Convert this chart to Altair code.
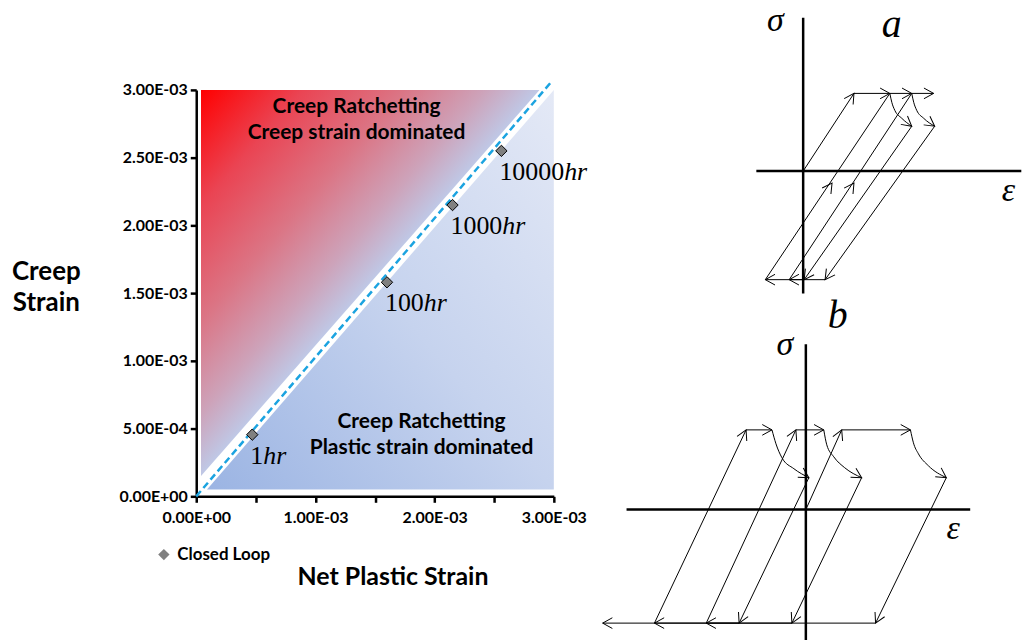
import math
import altair as alt
import pandas as pd

# ---------------- main chart data ----------------
net_plastic = [0.00047, 0.00160, 0.00215, 0.00256]
creep_strain = [0.000455, 0.00158, 0.00215, 0.00255]
hours = ["1", "100", "1000", "10000"]
series_name = "Closed Loop"

tick_values = [0.0, 0.0005, 0.001, 0.0015, 0.002, 0.0025, 0.003]
x_tick_labels = ["0.00E+00", "", "1.00E-03", "", "2.00E-03", "", "3.00E-03"]
y_tick_labels = ["0.00E+00", "5.00E-04", "1.00E-03", "1.50E-03", "2.00E-03", "2.50E-03", "3.00E-03"]

# dashed boundary line (net plastic strain = creep strain)
boundary_x = [0.0, 0.00297]
boundary_y = [0.0, 0.00305]

# shaded regions: x, lower edge, upper edge
creep_region_x = [0.00004, 0.00288]
creep_region_lo = [0.00015, 0.00300]
creep_region_hi = [0.00300, 0.00300]
plastic_region_x = [0.00009, 0.00300]
plastic_region_lo = [0.00005, 0.00005]
plastic_region_hi = [0.00005, 0.00300]

region_text = ["Creep Ratchetting", "Creep strain dominated",
               "Creep Ratchetting", "Plastic strain dominated"]
region_text_x = [0.001345, 0.001345, 0.00189, 0.00189]
region_text_y = [0.00287, 0.00268, 0.000545, 0.000353]

# ---------------- sketch data (schematic stress-strain, arbitrary units) ----------------
# sketch a
a_lines = [
    [(0.0, 0.0), (5.1, 7.8), (8.7, 7.8)],
    [(10.9, 4.5), (0.1, -10.9), (-3.8, -10.9), (8.7, 7.8), (10.9, 7.8)],
    [(13.2, 4.5), (2.2, -10.9), (-1.4, -10.9), (10.9, 7.8), (13.1, 7.8)],
]
a_curves = [
    [(8.7, 7.8), (8.9, 6.9), (9.2, 6.1), (9.9, 5.3), (10.9, 4.5)],
    [(10.9, 7.8), (11.1, 6.9), (11.4, 6.1), (12.1, 5.3), (13.2, 4.5)],
]
# arrow tip and the point it comes from
a_arrows = [
    ((5.1, 7.8), (0.0, 0.0)), ((8.7, 7.8), (5.1, 7.8)), ((10.9, 4.5), (9.9, 5.3)),
    ((0.1, -10.9), (10.9, 4.5)), ((-3.8, -10.9), (0.1, -10.9)), ((2.9, -1.2), (-3.8, -10.9)),
    ((10.9, 7.8), (8.7, 7.8)), ((13.2, 4.5), (12.1, 5.3)), ((2.2, -10.9), (13.2, 4.5)),
    ((-1.4, -10.9), (2.2, -10.9)), ((5.1, -1.2), (-1.4, -10.9)), ((13.1, 7.8), (10.9, 7.8)),
]
a_axes = [(-4.7, 21.9, 0.0, 0.0), (0.0, 0.0, -12.3, 15.4)]
a_labels = ["σ", "a", "ε"]
a_label_eps = [-2.8, 8.9, 20.6]
a_label_sig = [15.1, 14.7, -2.0]

# sketch b
b_lines = [
    [(0.0, 0.0), (3.6, 8.0), (10.5, 8.0)],
    [(14.1, 3.2), (7.0, -11.4), (-10.0, -11.4), (-1.0, 8.0), (1.8, 8.0)],
    [(5.6, 3.2), (-1.4, -11.4), (-15.2, -11.4), (-6.0, 8.0), (-3.4, 8.0)],
    [(0.3, 3.2), (-6.7, -11.4), (-20.4, -11.4)],
]
b_curves = [
    [(10.5, 8.0), (10.8, 6.7), (11.3, 5.6), (12.3, 4.4), (14.1, 3.2)],
    [(1.8, 8.0), (2.1, 6.5), (2.8, 5.3), (3.9, 4.2), (5.6, 3.2)],
    [(-3.4, 8.0), (-3.0, 6.6), (-2.4, 5.2), (-1.2, 4.1), (0.3, 3.2)],
]
b_arrows = [
    ((3.6, 8.0), (0.0, 0.0)), ((10.5, 8.0), (3.6, 8.0)), ((14.1, 3.2), (12.3, 4.4)),
    ((7.0, -11.4), (14.1, 3.2)), ((-10.0, -11.4), (7.0, -11.4)), ((-1.0, 8.0), (-10.0, -11.4)),
    ((1.8, 8.0), (-1.0, 8.0)), ((5.6, 3.2), (3.9, 4.2)), ((-1.4, -11.4), (5.6, 3.2)),
    ((-15.2, -11.4), (-1.4, -11.4)), ((-6.0, 8.0), (-15.2, -11.4)), ((-3.4, 8.0), (-6.0, 8.0)),
    ((0.3, 3.2), (-1.2, 4.1)), ((-6.7, -11.4), (0.3, 3.2)), ((-20.4, -11.4), (-6.7, -11.4)),
]
b_axes = [(-18.0, 16.5, 0.0, 0.0), (0.0, 0.0, -13.1, 16.6)]
b_labels = ["σ", "b", "ε"]
b_label_eps = [-2.1, 3.2, 14.8]
b_label_sig = [16.5, 19.4, -2.0]

# ---------------- main chart ----------------
LABEL_FONT = "Lato"
SERIF = "Liberation Serif"
HR_SIZE = 26


def label_expr(values, labels):
    expr = "''"
    for v, lab in reversed(list(zip(values, labels))):
        expr = f"abs(datum.value - {v}) < 1e-9 ? '{lab}' : ({expr})"
    return expr


xscale = alt.Scale(domain=[0, 0.003], nice=False, zero=True)
yscale = alt.Scale(domain=[0, 0.003], nice=False, zero=True)

x_axis = alt.Axis(values=tick_values, labelExpr=label_expr(tick_values, x_tick_labels),
                  grid=False, domainColor="black", domainWidth=2.5, tickColor="black",
                  tickWidth=2.5, tickSize=6, labelFont=LABEL_FONT, labelFontWeight="bold",
                  labelFontSize=16, labelColor="black", labelPadding=7,
                  title="Net Plastic Strain", titleFont=LABEL_FONT, titleFontSize=25,
                  titleFontWeight="bold", titleColor="black", titleX=197, titleY=81,
                  titleAlign="center", titleBaseline="middle", labelFlush=False)
y_axis = alt.Axis(values=tick_values, labelExpr=label_expr(tick_values, y_tick_labels),
                  grid=False, domainColor="black", domainWidth=2.5, tickColor="black",
                  tickWidth=2.5, tickSize=6, labelFont=LABEL_FONT, labelFontWeight="bold",
                  labelFontSize=16, labelColor="black", labelPadding=3,
                  title=["Creep", "Strain"], titleFont=LABEL_FONT, titleFontSize=26,
                  titleFontWeight="bold", titleColor="black", titleAngle=0,
                  titleAlign="center", titleBaseline="middle", titleX=-151, titleY=182,
                  titleLineHeight=31, labelFlush=False)

creep_df = pd.DataFrame({"x": creep_region_x, "lo": creep_region_lo, "hi": creep_region_hi})
plastic_df = pd.DataFrame({"x": plastic_region_x, "lo": plastic_region_lo, "hi": plastic_region_hi})

creep_area = alt.Chart(creep_df).mark_area(
    color=alt.Gradient(gradient="linear", x1=0, y1=0, x2=1, y2=1, stops=[
        alt.GradientStop(color="#ff0000", offset=0),
        alt.GradientStop(color="#ea4453", offset=0.15),
        alt.GradientStop(color="#db7585", offset=0.3),
        alt.GradientStop(color="#cda3ba", offset=0.42),
        alt.GradientStop(color="#bfc8e6", offset=0.5),
        alt.GradientStop(color="#bfc8e6", offset=1),
    ])
).encode(
    x=alt.X("x:Q", scale=xscale, axis=x_axis),
    y=alt.Y("lo:Q", scale=yscale, axis=y_axis),
    y2="hi:Q",
)

plastic_area = alt.Chart(plastic_df).mark_area(
    color=alt.Gradient(gradient="linear", x1=0, y1=1, x2=1, y2=0, stops=[
        alt.GradientStop(color="#9bb4e3", offset=0),
        alt.GradientStop(color="#c6d3ee", offset=0.5),
        alt.GradientStop(color="#e4e9f6", offset=1),
    ])
).encode(x=alt.X("x:Q", scale=xscale), y=alt.Y("lo:Q", scale=yscale), y2="hi:Q")

boundary_df = pd.DataFrame({"x": boundary_x, "y": boundary_y})
boundary = alt.Chart(boundary_df).mark_line(
    color="#1ba3e0", strokeDash=[7, 4], strokeWidth=2.5
).encode(x=alt.X("x:Q", scale=xscale), y=alt.Y("y:Q", scale=yscale))

pts_df = pd.DataFrame({"x": net_plastic, "y": creep_strain, "num": hours,
                       "series": [series_name] * len(hours)})
pts_df["ndig"] = pts_df["num"].str.len()

points = alt.Chart(pts_df).mark_point(
    filled=True, fill="#808080", stroke="black", strokeWidth=1, size=130, opacity=1
).encode(
    x=alt.X("x:Q", scale=xscale), y=alt.Y("y:Q", scale=yscale),
    shape=alt.Shape("series:N", scale=alt.Scale(domain=[series_name], range=["diamond"]),
                    legend=alt.Legend(title=None, orient="none", legendX=-41, legendY=544,
                                      labelFont=LABEL_FONT, labelFontWeight="bold",
                                      labelFontSize=17, labelColor="black",
                                      symbolFillColor="#808080", symbolStrokeColor="black",
                                      symbolStrokeWidth=1, symbolSize=130, padding=0,
                                      labelOffset=5)),
)

num_text = alt.Chart(pts_df).mark_text(
    align="left", baseline="middle", dx=-2, dy=21, font=SERIF, fontSize=HR_SIZE, color="black"
).encode(x=alt.X("x:Q", scale=xscale), y=alt.Y("y:Q", scale=yscale), text="num:N")

hr_layers = []
for n in sorted(set(pts_df["ndig"])):
    hr_layers.append(
        alt.Chart(pts_df).transform_filter(alt.datum.ndig == int(n)).mark_text(
            align="left", baseline="middle", dx=-2 + n * HR_SIZE / 2, dy=21, font=SERIF,
            fontSize=HR_SIZE, fontStyle="italic", color="black", text="hr"
        ).encode(x=alt.X("x:Q", scale=xscale), y=alt.Y("y:Q", scale=yscale))
    )

region_df = pd.DataFrame({"x": region_text_x, "y": region_text_y, "t": region_text})
region_labels = alt.Chart(region_df).mark_text(
    align="center", baseline="middle", font=LABEL_FONT, fontSize=21, fontWeight="bold",
    color="black"
).encode(x=alt.X("x:Q", scale=xscale), y=alt.Y("y:Q", scale=yscale), text="t:N")

main = alt.layer(creep_area, plastic_area, boundary, points, num_text, *hr_layers,
                 region_labels).properties(width=359, height=408)

spacer = alt.Chart(pd.DataFrame({"v": [0]})).mark_point(opacity=0).encode(
    x=alt.value(0), y=alt.value(0)).properties(width=359, height=74)

left = alt.vconcat(spacer, main, spacing=0)


# ---------------- sketches ----------------
def sketch(lines, curves, arrows, axes, labels, label_eps, label_sig, eps_dom, sig_dom, w, h):
    xs = alt.Scale(domain=eps_dom, nice=False, zero=False)
    ys = alt.Scale(domain=sig_dom, nice=False, zero=False)
    rows = []
    for i, ln in enumerate(lines):
        for j, (e, s) in enumerate(ln):
            rows.append({"path": f"l{i}", "o": j, "eps": e, "sig": s})
    line_df = pd.DataFrame(rows)
    rows = []
    for i, ln in enumerate(curves):
        for j, (e, s) in enumerate(ln):
            rows.append({"path": f"c{i}", "o": j, "eps": e, "sig": s})
    curve_df = pd.DataFrame(rows)
    rows = []
    for (tip, frm) in arrows:
        ang = math.degrees(math.atan2(-(tip[1] - frm[1]), tip[0] - frm[0])) % 360
        rows.append({"eps": tip[0], "sig": tip[1], "ang": ang})
    arrow_df = pd.DataFrame(rows)
    axis_df = pd.DataFrame([{"e1": a[0], "e2": a[1], "s1": a[2], "s2": a[3]} for a in axes])
    lab_df = pd.DataFrame({"eps": label_eps, "sig": label_sig, "t": labels,
                           "size": [34, 40, 34]})

    enc = dict(x=alt.X("eps:Q", scale=xs, axis=None), y=alt.Y("sig:Q", scale=ys, axis=None))
    ax = alt.Chart(axis_df).mark_rule(color="black", strokeWidth=2.5).encode(
        x=alt.X("e1:Q", scale=xs, axis=None), x2="e2:Q",
        y=alt.Y("s1:Q", scale=ys, axis=None), y2="s2:Q")
    ln = alt.Chart(line_df).mark_line(color="black", strokeWidth=1).encode(
        detail="path:N", order="o:Q", **enc)
    cv = alt.Chart(curve_df).mark_line(color="black", strokeWidth=1,
                                       interpolate="monotone").encode(
        detail="path:N", order="o:Q", **enc)
    ar = alt.Chart(arrow_df).mark_point(
        shape="M-1,-0.55L0,0L-1,0.55", filled=False, stroke="black", strokeWidth=1,
        size=380, opacity=1
    ).encode(angle=alt.Angle("ang:Q", scale=None), **enc)
    tx = alt.Chart(lab_df).mark_text(font=SERIF, fontStyle="italic", color="black",
                                     align="center", baseline="middle").encode(
        text="t:N", size=alt.Size("size:Q", scale=None), **enc)
    return alt.layer(ax, ln, cv, ar, tx).properties(width=w, height=h)


sketch_a = sketch(a_lines, a_curves, a_arrows, a_axes, a_labels, a_label_eps,
                  a_label_sig, [-20.43, 21.87], [-12.55, 16.75], 423, 293)
sketch_b = sketch(b_lines, b_curves, b_arrows, b_axes, b_labels, b_label_eps,
                  b_label_sig, [-20.7, 21.6], [-13.07, 21.23], 423, 343)

right = alt.vconcat(sketch_a, sketch_b, spacing=0)

chart = alt.hconcat(left, right, spacing=12).properties(
    padding={"left": 11, "top": 0, "right": 0, "bottom": 0}
).configure(background="white", view=alt.ViewConfig(stroke=None))

chart.save("out.html", embed_options={"renderer": "svg", "actions": False})
